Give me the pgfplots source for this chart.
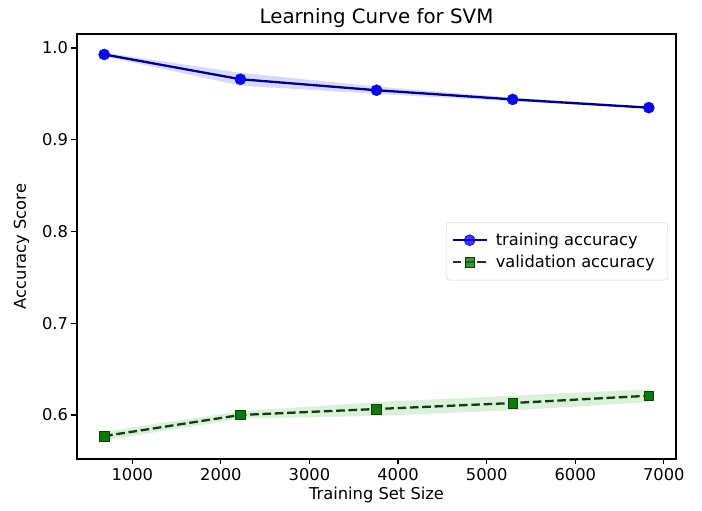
\documentclass[border=0pt]{standalone}
\usepackage{fontspec}
\setmainfont{DejaVu Sans}
\usepackage{pgfplots}
\usepackage{pgfplotstable}
\pgfplotsset{compat=1.18}
\usepgfplotslibrary{fillbetween}

\definecolor{trainline}{HTML}{000080}
\definecolor{trainmark}{HTML}{0A0AE6}
\definecolor{valline}{HTML}{143A14}
\definecolor{valmark}{HTML}{0A7A0A}
\definecolor{legedge}{HTML}{CCCCCC}

% columns: training set size, mean score, mean - std, mean + std
\pgfplotstableread{
x     mean   lo     hi
683   0.993  0.991  0.995
2220  0.966  0.959  0.973
3757  0.954  0.950  0.958
5293  0.944  0.942  0.946
6830  0.935  0.934  0.936
}\trainscores

\pgfplotstableread{
x     mean   lo     hi
683   0.577  0.572  0.582
2220  0.600  0.596  0.604
3757  0.6065 0.599  0.614
5293  0.613  0.605  0.621
6830  0.621  0.614  0.628
}\valscores

\newcommand{\tickfont}{\fontsize{16.3}{19}\selectfont}

\begin{document}
\begin{tikzpicture}
\begin{axis}[
  at={(0,0)}, anchor=south west,
  scale only axis, width=599pt, height=425pt,
  xmin=376, xmax=7137, ymin=0.552, ymax=1.0153,
  xtick={1000,2000,3000,4000,5000,6000,7000},
  ytick={0.6,0.7,0.8,0.9,1.0},
  yticklabels={0.6,0.7,0.8,0.9,1.0},
  scaled x ticks=false,
  xticklabel style={/pgf/number format/.cd,set thousands separator={}},
  /pgf/number format/assume math mode=true,
  tick align=outside, xtick pos=bottom, ytick pos=left,
  major tick length=5.5pt,
  tick style={black, line width=1.2pt},
  axis line style={black, line width=1.2pt},
  ticklabel style={font=\tickfont},
  label style={font=\tickfont},
  title style={font=\fontsize{19.8}{23}\selectfont, yshift=-3pt},
  title={Learning Curve for SVM},
  xlabel={Training Set Size},
  ylabel={Accuracy Score},
  xlabel style={yshift=0pt},
  ylabel style={yshift=6pt},
  legend style={at={(0.9866,0.489)}, anchor=east, draw=legedge, rounded corners=3pt,
    font=\tickfont, inner xsep=5pt, inner ysep=9pt, row sep=4pt,
    nodes={inner xsep=8pt},
    fill=white, fill opacity=0.8, text opacity=1},
  legend cell align=left,
  legend image code/.code={%
    \draw[mark repeat=2, mark phase=2, #1] plot coordinates {(0pt,0pt) (17pt,0pt) (34pt,0pt)};},
]
% shaded bands of one standard deviation
\addplot[draw=none, name path=trlo, forget plot] table[x=x, y=lo] {\trainscores};
\addplot[draw=none, name path=trhi, forget plot] table[x=x, y=hi] {\trainscores};
\addplot[blue, fill opacity=0.15, forget plot] fill between[of=trlo and trhi];
\addplot[draw=none, name path=valo, forget plot] table[x=x, y=lo] {\valscores};
\addplot[draw=none, name path=vahi, forget plot] table[x=x, y=hi] {\valscores};
\addplot[green!60!black, fill opacity=0.15, forget plot] fill between[of=valo and vahi];

% mean scores
\addplot[trainline, line width=2.3pt, mark=*, mark size=5.5pt,
  mark options={solid, fill=trainmark, draw=trainmark, line width=0.6pt}]
  table[x=x, y=mean] {\trainscores};
\addlegendentry{training accuracy}
\addplot[valline, line width=2.3pt, dash pattern=on 8.6pt off 3.7pt, mark=square*, mark size=4.8pt,
  mark options={solid, fill=valmark, draw=valline, line width=0.6pt}]
  table[x=x, y=mean] {\valscores};
\addlegendentry{validation accuracy}
\end{axis}
% fixed outer margins around the axis box
\pgfresetboundingbox
\useasboundingbox (-77pt,-52pt) rectangle (625pt,459pt);
\end{tikzpicture}
\end{document}
